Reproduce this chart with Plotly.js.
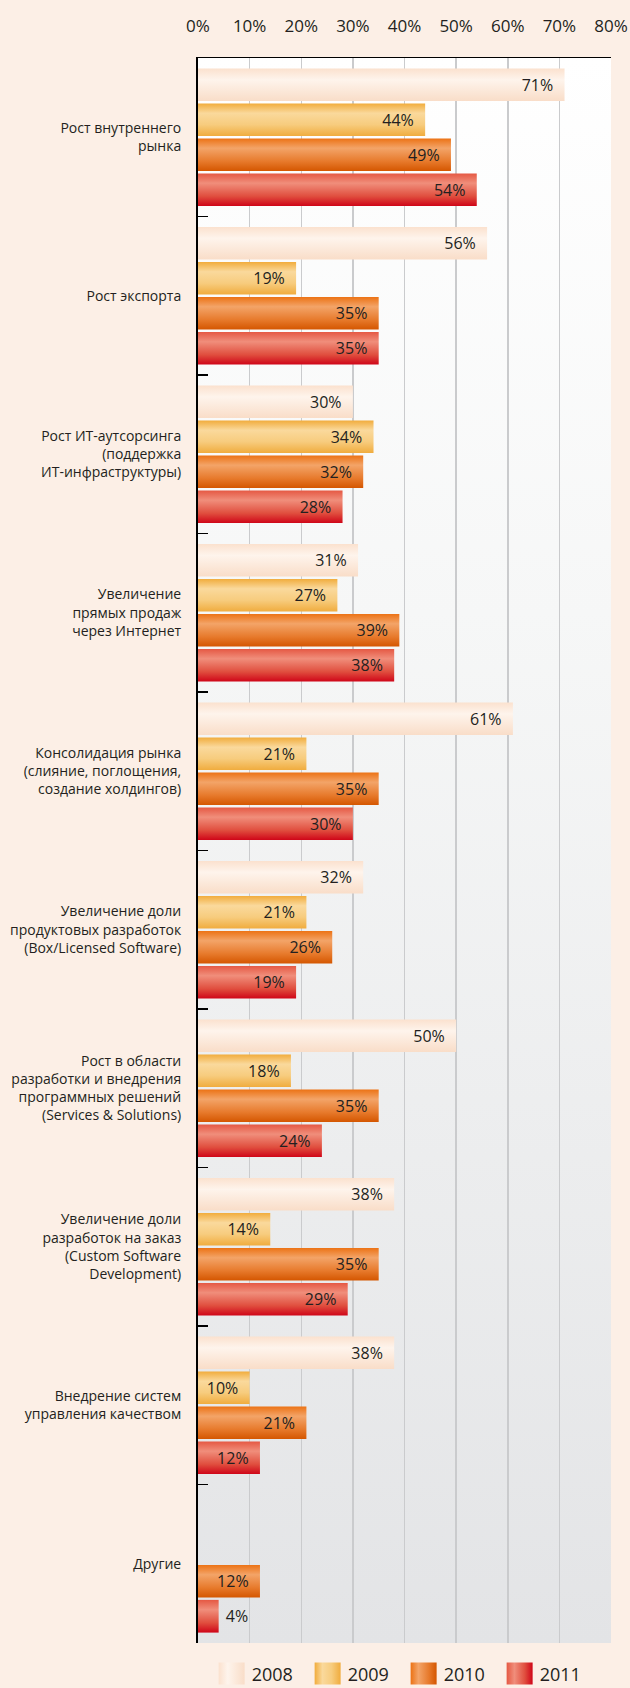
<!DOCTYPE html>
<html>
<head>
<meta charset="utf-8">
<script src="https://cdn.plot.ly/plotly-3.0.1.min.js"></script>
<style>
  html, body { margin: 0; padding: 0; background: #FCEFE6; }
  #chart { width: 630px; height: 1688px; }
</style>
</head>
<body>
<div id="chart"></div>
<script>
// ---- Data ----
const categories = [
  "Рост внутреннего<br>рынка",
  "Рост экспорта",
  "Рост ИТ-аутсорсинга<br>(поддержка<br>ИТ-инфраструктуры)",
  "Увеличение<br>прямых продаж<br>через Интернет",
  "Консолидация рынка<br>(слияние, поглощения,<br>создание холдингов)",
  "Увеличение доли<br>продуктовых разработок<br>(Box/Licensed Software)",
  "Рост в области<br>разработки и внедрения<br>программных решений<br>(Services & Solutions)",
  "Увеличение доли<br>разработок на заказ<br>(Custom Software<br>Development)",
  "Внедрение систем<br>управления качеством",
  "Другие"
];
const years = ["2008", "2009", "2010", "2011"];
const values2008 = [71, 56, 30, 31, 61, 32, 50, 38, 38, null];
const values2009 = [44, 19, 34, 27, 21, 21, 18, 14, 10, null];
const values2010 = [49, 35, 32, 39, 35, 26, 35, 35, 21, 12];
const values2011 = [54, 35, 28, 38, 30, 19, 24, 29, 12, 4];
const xTickVals = [0, 10, 20, 30, 40, 50, 60, 70, 80];

// ---- Styles ----
const seriesValues = [values2008, values2009, values2010, values2011];
const solidColors = ["#FBE6D6", "#F5C46A", "#EC8232", "#E4533F"];
const gradStops = [
  [[0, "#FBE1CE"], [0.35, "#FEF4EC"], [1, "#F9DDC8"]],
  [[0, "#F1AC3C"], [0.3, "#FAD99C"], [0.65, "#F7CC7E"], [1, "#F0AC3E"]],
  [[0, "#EC7214"], [0.3, "#F3A468"], [0.7, "#E77A2C"], [1, "#D45600"]],
  [[0, "#E55843"], [0.3, "#F08E7B"], [0.7, "#E04E3E"], [1, "#CF0518"]]
];
const FONT = '"Open Sans", "Noto Sans", sans-serif';
const TXT = "#231F20";
const NB = "\u00a0";

const traces = seriesValues.map((vals, i) => ({
  type: "bar",
  orientation: "h",
  name: years[i],
  y: categories,
  x: vals,
  marker: { color: solidColors[i], line: { width: 0 } },
  text: vals.map(v => v == null ? "" : (v < 8 ? NB + v + "%" : v + "%" + NB + NB)),
  textposition: vals.map(v => (v != null && v < 8) ? "outside" : "inside"),
  insidetextanchor: "end",
  textangle: 0,
  constraintext: "none",
  cliponaxis: false,
  textfont: { family: FONT, size: 16, color: TXT },
  hoverinfo: "skip"
}));

const bgSvg = '<svg xmlns="http://www.w3.org/2000/svg" width="10" height="100" preserveAspectRatio="none">' +
  '<defs><linearGradient id="g" x1="0" y1="0" x2="0" y2="1">' +
  '<stop offset="0" stop-color="#FFFFFF"/><stop offset="0.35" stop-color="#F6F7F7"/>' +
  '<stop offset="1" stop-color="#E3E4E6"/></linearGradient></defs>' +
  '<rect width="10" height="100" fill="url(#g)"/></svg>';

const layout = {
  width: 630,
  height: 1688,
  margin: { l: 198, r: 19, t: 58, b: 45, autoexpand: false },
  paper_bgcolor: "#FCEFE6",
  plot_bgcolor: "rgba(0,0,0,0)",
  font: { family: FONT, color: TXT },
  barmode: "group",
  bargap: 0.117,
  bargroupgap: 0.065,
  showlegend: true,
  legend: {
    orientation: "h",
    x: 0.033, xanchor: "left",
    y: -0.0195, yanchor: "middle",
    font: { family: FONT, size: 18, color: TXT },
    entrywidth: 51, entrywidthmode: "pixels",
    itemwidth: 30,
    bgcolor: "rgba(0,0,0,0)",
    traceorder: "normal"
  },
  xaxis: {
    side: "top",
    range: [0, 80],
    tickvals: xTickVals,
    ticktext: xTickVals.map(v => v + "%"),
    showgrid: true,
    gridcolor: "#CACBCD",
    gridwidth: 1.5,
    zeroline: false,
    showline: true,
    linecolor: "#000000",
    linewidth: 1.5,
    ticks: "",
    ticklabelstandoff: 18,
    tickfont: { family: FONT, size: 17, color: TXT },
    fixedrange: true
  },
  yaxis: {
    type: "category",
    autorange: "reversed",
    showgrid: false,
    zeroline: false,
    showline: true,
    linecolor: "#000000",
    linewidth: 2,
    ticks: "inside",
    tickson: "boundaries",
    ticklen: 10,
    tickwidth: 1.5,
    tickcolor: "#000000",
    ticklabelstandoff: 12,
    tickfont: { family: FONT, size: 14, color: TXT },
    fixedrange: true
  },
  images: [{
    source: "data:image/svg+xml;charset=utf-8," + encodeURIComponent(bgSvg),
    xref: "x domain", yref: "y domain",
    x: 0, y: 1, sizex: 1, sizey: 1,
    xanchor: "left", yanchor: "top",
    sizing: "stretch",
    layer: "below"
  }]
};

Plotly.newPlot("chart", traces, layout, { displayModeBar: false, staticPlot: true }).then(gd => {
  const NS = "http://www.w3.org/2000/svg";
  const svg = gd.querySelector("svg.main-svg");
  let defs = svg.querySelector("defs");
  if (!defs) { defs = document.createElementNS(NS, "defs"); svg.insertBefore(defs, svg.firstChild); }
  function makeGrad(id, stops, horizontal) {
    const g = document.createElementNS(NS, "linearGradient");
    g.setAttribute("id", id);
    g.setAttribute("x1", "0"); g.setAttribute("y1", "0");
    g.setAttribute("x2", horizontal ? "1" : "0"); g.setAttribute("y2", horizontal ? "0" : "1");
    stops.forEach(s => {
      const st = document.createElementNS(NS, "stop");
      st.setAttribute("offset", s[0]);
      st.setAttribute("stop-color", s[1]);
      g.appendChild(st);
    });
    defs.appendChild(g);
  }
  gradStops.forEach((s, i) => { makeGrad("barg" + i, s, false); makeGrad("legg" + i, s, true); });
  gd.querySelectorAll(".barlayer .trace").forEach((tr, i) => {
    tr.querySelectorAll("path").forEach(p => { p.style.fill = "url(#barg" + i + ")"; });
  });
  gd.querySelectorAll(".legend .traces").forEach((tr, i) => {
    tr.querySelectorAll(".legendpoints path").forEach(p => {
      p.setAttribute("d", "M-13,-11H13V11H-13Z");
      p.style.fill = "url(#legg" + i + ")";
      p.style.stroke = "none";
    });
  });
});
</script>
</body>
</html>
